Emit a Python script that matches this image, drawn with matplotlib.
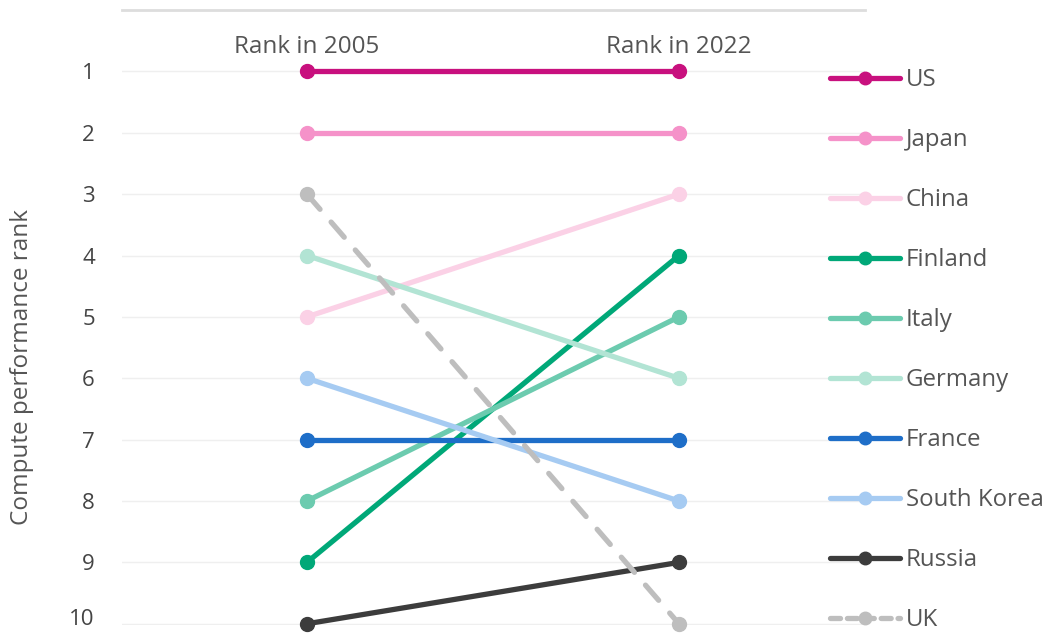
import matplotlib
matplotlib.use("Agg")
import matplotlib.pyplot as plt
from matplotlib.lines import Line2D
from matplotlib.transforms import ScaledTranslation

plt.rcParams['font.family'] = ['Open Sans', 'DejaVu Sans']

# Ranking data
countries = ["US", "Japan", "China", "Finland", "Italy", "Germany",
             "France", "South Korea", "Russia", "UK"]
rank_2005 = [1, 2, 5, 9, 8, 4, 7, 6, 10, 3]
rank_2022 = [1, 2, 3, 4, 5, 6, 7, 8, 9, 10]
column_labels = ["Rank in 2005", "Rank in 2022"]
rank_ticks = [1, 2, 3, 4, 5, 6, 7, 8, 9, 10]

colors = ["#C8107E", "#F592C9", "#FBD1E6", "#00A878", "#6CCBAF", "#B2E4D4",
          "#1E6EC8", "#A6CBF2", "#3C3C3C", "#BEBEBE"]
styles = ["-"] * 9 + ["--"]

W, H = 1054, 633
fig = plt.figure(figsize=(W / 100, H / 100), dpi=100)
ax = fig.add_axes([122 / W, 1 - 625 / H, (865 - 122) / W, (625 - 10) / H])

xpos = [0, 1]
for name, r0, r1, c, ls in zip(countries, rank_2005, rank_2022, colors, styles):
    ax.plot(xpos, [r0, r1], color=c, lw=3.8, ls=ls, marker="o", ms=10,
            dashes=(3.8, 3.2) if ls == "--" else (None, None),
            solid_capstyle="round", dash_capstyle="round", label=name,
            clip_on=False, zorder=3)

ax.set_xlim(-0.497, 1.5)
ax.set_ylim(10.02, 0.0)
ax.set_yticks(rank_ticks)
ax.set_yticklabels([str(t) for t in rank_ticks])
ax.tick_params(axis="y", length=0, pad=19.5, labelsize=16, labelcolor="#444444")
ax.set_xticks([])
ax.grid(axis="y", color="#EFEFEF", lw=1, zorder=0)
for s in ["left", "right", "bottom"]:
    ax.spines[s].set_visible(False)
ax.spines["top"].set_color("#DDDDDD")
ax.spines["top"].set_linewidth(2)

# keep the bottom tick label inside the canvas
last = ax.get_yticklabels()[-1]
last.set_transform(last.get_transform() +
                   ScaledTranslation(0, 7 / 100, fig.dpi_scale_trans))

for x, lab in zip(xpos, column_labels):
    ax.text(x, 0.6, lab, ha="center", va="center", fontsize=17.5,
            color="#555555")

ax.set_ylabel("Compute performance rank", fontsize=17.5, color="#555555")
ax.yaxis.set_label_coords(-88 / (865 - 122), 0.42)

handles = [Line2D([0], [0], color=c, lw=3.8, ls=ls, marker="o", ms=9,
                  dashes=(1.9, 1.3) if ls == "--" else (None, None),
                  solid_capstyle="round", dash_capstyle="round")
           for c, ls in zip(colors, styles)]
leg = fig.legend(handles, countries, loc="upper left",
                 bbox_to_anchor=(830 / W, 1 - 68 / H), frameon=False,
                 fontsize=17.3, handlelength=2.9, handletextpad=0.25,
                 labelspacing=1.50, labelcolor="#555555", borderpad=0,
                 borderaxespad=0)

fig.savefig("out.png", dpi=100)
